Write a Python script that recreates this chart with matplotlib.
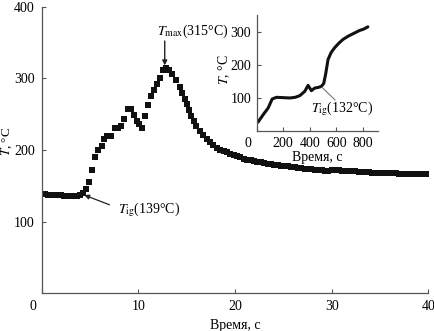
import numpy as np
import matplotlib
matplotlib.use("Agg")
import matplotlib.pyplot as plt
import matplotlib.transforms as mtransforms

plt.rcParams['font.family'] = ['Liberation Serif', 'DejaVu Serif']
plt.rcParams['mathtext.fontset'] = 'stix'
plt.rcParams['font.size'] = 10

# основной опыт: температура образца во времени (с, °C)
t_pre = np.arange(0, 4, 0.33)
T_pre = [138, 138, 137.5, 137.5, 137, 137, 136.5, 136, 135.5, 135.5, 135.5, 136, 137.5]

t_fire = [4.25, 4.55, 4.88, 5.23, 5.5, 5.85, 6.2, 6.44, 6.78, 7.13, 7.57, 7.9, 8.2, 8.55,
          8.92, 9.27, 9.5, 9.8, 10.1, 10.4, 10.65, 10.98, 11.28, 11.6, 11.9, 12.22, 12.5,
          12.82, 13.17, 13.5, 13.9, 14.25, 14.55, 14.8, 15.0, 15.23, 15.47, 15.75, 16.0,
          16.35, 16.7, 17.05, 17.4, 17.75, 18.1, 18.45, 18.8, 19.15, 19.5, 19.85, 20.2,
          20.55, 20.9, 21.25]
T_fire = [140, 146, 155, 172, 190, 200, 206, 215, 219, 220, 230, 231, 234, 243,
          257, 257, 249, 241, 236, 230, 248, 263, 275, 284, 292, 301, 312,
          315, 312, 306, 297, 288, 280, 271, 264, 256, 248, 241, 234,
          227, 221, 215, 211, 207, 203, 200, 198, 196.5, 195, 193, 191,
          189.5, 188, 186.5]

t_tail = np.linspace(21.6, 39.8, 53)
T_tail = [185.5, 184.5, 183.5, 182.5, 181.5, 180.5, 180, 179, 178.5, 178,
          177.5, 177, 176.5, 176, 175.5, 175, 174, 173.5, 173, 172.5,
          172, 171.5, 171, 171, 171.5, 172, 171.5, 171, 170.5, 170.5,
          170, 170, 169.5, 169.5, 169, 169, 168.5, 168.5, 168, 168,
          168, 167.5, 167.5, 167.5, 167, 167, 167, 166.5, 166.5, 166,
          166, 166.5, 167]

time_s = np.concatenate([t_pre, t_fire, t_tail])
temp_c = np.concatenate([T_pre, T_fire, T_tail])

# вставка: медленный нагрев
ins_time = [10, 50, 87, 117, 150, 200, 250, 290, 325, 362, 387, 412, 437, 465, 487,
            505, 520, 537, 560, 587, 620, 650, 690, 725, 775, 805, 837]
ins_temp = [28, 51, 71, 98, 103, 102, 101, 103, 108, 121, 139, 123, 131, 133, 136,
            145, 175, 217, 238, 253, 267, 278, 288, 295, 305, 309, 316]

spine_col = '#555555'

fig = plt.figure(figsize=(4.35, 3.31), dpi=100)
ax = fig.add_axes([0.096, 0.114, 0.889, 0.866])
ax.plot(time_s, temp_c, 's', color='#111111', ms=4.2, mec='#111111', mew=0)
ax.set_xlim(0, 40)
ax.set_ylim(0, 400)
ax.set_xticks([0, 10, 20, 30, 40])
ax.set_yticks([100, 200, 300, 400])
for s in ['top', 'right']:
    ax.spines[s].set_visible(False)
for s in ['left', 'bottom']:
    ax.spines[s].set_color(spine_col)
    ax.spines[s].set_linewidth(0.9)
ax.tick_params(direction='in', length=3, color=spine_col, pad=5, labelsize=10)
ax.set_xlabel('Время, с', labelpad=4)
ax.set_ylabel('$T$, °C', fontsize=9.5)
ax.yaxis.set_label_coords(-0.073, 0.53)
lab0 = ax.get_xticklabels()[0]
lab0.set_transform(lab0.get_transform() + mtransforms.ScaledTranslation(-6 / 72, 0, fig.dpi_scale_trans))

ax.annotate('', xy=(12.72, 318), xytext=(12.72, 352),
            arrowprops=dict(arrowstyle='-|>', color='#222222', lw=1.0,
                            mutation_scale=7, shrinkA=0, shrinkB=0))
ax.text(11.9, 366, r'$T_{\mathrm{max}}$(315°C)', ha='left', va='center', fontsize=10)

ax.annotate('', xy=(4.4, 137), xytext=(7.0, 123.5),
            arrowprops=dict(arrowstyle='-|>', color='#222222', lw=0.9,
                            mutation_scale=7, shrinkA=0, shrinkB=0))
ax.text(7.9, 116, r'$T_{\mathrm{ig}}$(139°C)', ha='left', va='center', fontsize=10)

# вставка
ins = fig.add_axes([0.590, 0.603, 0.278, 0.352])
ins.patch.set_alpha(0)
ins.plot(ins_time, ins_temp, '-', color='#111111', lw=2.2, solid_capstyle='round')
ins.set_xlim(0, 910)
ins.set_ylim(0, 352)
ins.set_xticks([0, 200, 400, 600, 800])
ins.set_yticks([100, 200, 300])
for s in ['top', 'right']:
    ins.spines[s].set_visible(False)
for s in ['left', 'bottom']:
    ins.spines[s].set_color(spine_col)
    ins.spines[s].set_linewidth(0.9)
ins.tick_params(direction='in', length=3, color=spine_col, pad=4, labelsize=10)
ins.set_xlabel('Время, с', labelpad=1)
ins.set_ylabel('$T$, °C')
ins.yaxis.set_label_coords(-0.207, 0.53)
ilab0 = ins.get_xticklabels()[0]
ilab0.set_transform(ilab0.get_transform() + mtransforms.ScaledTranslation(-6 / 72, 0, fig.dpi_scale_trans))
ins.plot([492, 590], [133, 95], '-', color='#777777', lw=0.8)
ins.text(412, 70, r'$T_{\mathrm{ig}}$(132°C)', ha='left', va='center', fontsize=10)

fig.savefig('out.png', dpi=100)
